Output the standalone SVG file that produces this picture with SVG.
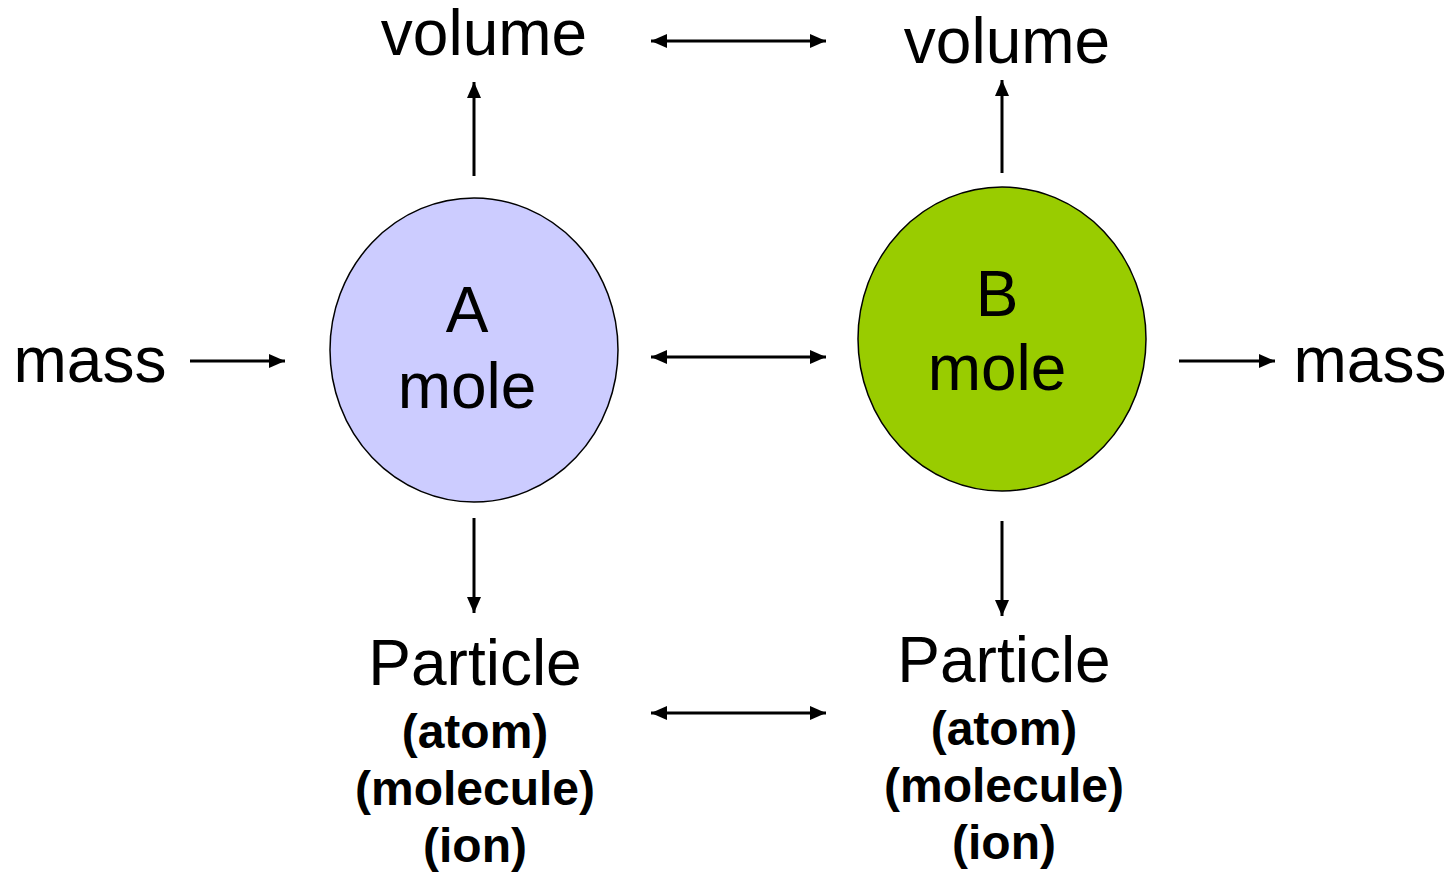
<svg xmlns="http://www.w3.org/2000/svg" width="1454" height="872" viewBox="0 0 1454 872">
<style>
.t{font-family:"Liberation Sans",Arial,sans-serif;font-size:64px;fill:#000;text-anchor:middle}
.b{font-family:"Liberation Sans",Arial,sans-serif;font-size:48px;font-weight:bold;fill:#000;text-anchor:middle}
.c{stroke:#000;stroke-width:1.5}
.a{stroke:#000;stroke-width:3;fill:none}
</style>
<defs>
<marker id="ah" markerUnits="userSpaceOnUse" markerWidth="18" markerHeight="14" refX="16" refY="7" orient="auto-start-reverse">
<path d="M0,0 L16,7 L0,14 z" fill="#000"/>
</marker>
</defs>
<rect width="1454" height="872" fill="#fff"/>
<g id="nodeA">
<ellipse class="c" cx="474" cy="350" rx="144" ry="152" fill="#ccccff"/>
<text class="t" x="467" y="332">A</text>
<text class="t" x="467" y="408">mole</text>
</g>
<g id="nodeB">
<ellipse class="c" cx="1002" cy="339" rx="144" ry="152" fill="#99cc00"/>
<text class="t" x="997" y="316">B</text>
<text class="t" x="997" y="390">mole</text>
</g>
<g id="volA"><text class="t" x="484" y="55">volume</text></g>
<g id="volB"><text class="t" x="1007" y="63">volume</text></g>
<g id="massA"><text class="t" x="90" y="382">mass</text></g>
<g id="massB"><text class="t" x="1370" y="382">mass</text></g>
<g id="partA">
<text class="t" x="475" y="685">Particle</text>
<text class="b" x="475" y="748">(atom)</text>
<text class="b" x="475" y="805">(molecule)</text>
<text class="b" x="475" y="862">(ion)</text>
</g>
<g id="partB">
<text class="t" x="1004" y="682">Particle</text>
<text class="b" x="1004" y="745">(atom)</text>
<text class="b" x="1004" y="802">(molecule)</text>
<text class="b" x="1004" y="859">(ion)</text>
</g>
<g id="connectors">
<line class="a" x1="474" y1="176" x2="474" y2="82" marker-end="url(#ah)"/>
<line class="a" x1="1002" y1="173" x2="1002" y2="80" marker-end="url(#ah)"/>
<line class="a" x1="474" y1="518" x2="474" y2="613" marker-end="url(#ah)"/>
<line class="a" x1="1002" y1="521" x2="1002" y2="616" marker-end="url(#ah)"/>
<line class="a" x1="190" y1="361" x2="285" y2="361" marker-end="url(#ah)"/>
<line class="a" x1="1179" y1="361" x2="1275" y2="361" marker-end="url(#ah)"/>
<line class="a" x1="651" y1="41" x2="826" y2="41" marker-start="url(#ah)" marker-end="url(#ah)"/>
<line class="a" x1="651" y1="357" x2="826" y2="357" marker-start="url(#ah)" marker-end="url(#ah)"/>
<line class="a" x1="651" y1="713" x2="826" y2="713" marker-start="url(#ah)" marker-end="url(#ah)"/>
</g>
</svg>
